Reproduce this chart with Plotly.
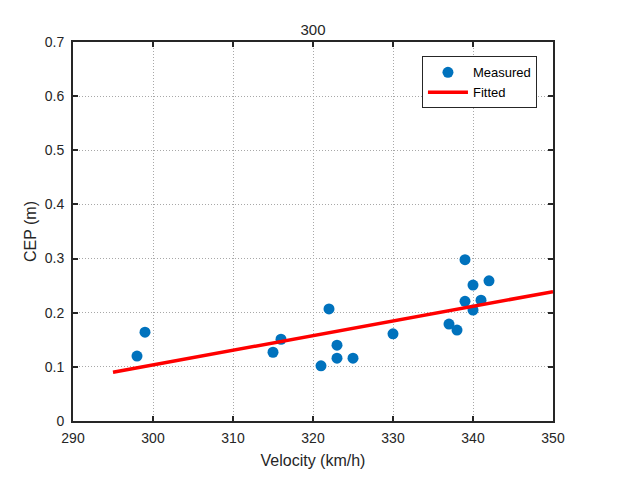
import plotly.graph_objects as go

velocity = [298, 299, 315, 316, 321, 322, 323, 323, 325, 330, 337, 338, 339, 339, 340, 340, 341, 342]
cep = [0.120, 0.164, 0.127, 0.151, 0.102, 0.207, 0.140, 0.116, 0.116, 0.161, 0.179, 0.168, 0.298, 0.221, 0.251, 0.205, 0.223, 0.259]
fit_x = [295, 350]
fit_y = [0.090, 0.239]

x_ticks = [290, 300, 310, 320, 330, 340, 350]
y_ticks = [0, 0.1, 0.2, 0.3, 0.4, 0.5, 0.6, 0.7]

font = "Liberation Sans, Arial, sans-serif"

fig = go.Figure()
fig.add_trace(go.Scatter(x=velocity, y=cep, mode="markers", name="Measured",
                         marker=dict(color="#0072BD", size=11)))
fig.add_trace(go.Scatter(x=fit_x, y=fit_y, mode="lines", name="Fitted",
                         line=dict(color="#FF0000", width=3.5)))

axis_common = dict(showline=True, linecolor="#262626", linewidth=2, mirror="ticks",
                   ticks="inside", ticklen=5, tickwidth=2, tickcolor="#262626",
                   showgrid=True, gridcolor="#a8a8a8", griddash="1px,2px", gridwidth=1,
                   zeroline=False, tickfont=dict(family=font, size=14, color="#262626"))

fig.update_xaxes(range=[290, 350], tickvals=x_ticks, ticktext=[str(v) for v in x_ticks],
                 ticklabelstandoff=3,
                 title=dict(text="Velocity (km/h)", font=dict(family=font, size=16, color="#262626"), standoff=10),
                 **axis_common)
fig.update_yaxes(range=[0, 0.7], tickvals=y_ticks, ticktext=[("%g" % v) for v in y_ticks],
                 ticklabelstandoff=4,
                 title=dict(text="CEP (m)", font=dict(family=font, size=16, color="#262626"), standoff=4),
                 **axis_common)

fig.update_layout(
    width=638, height=485,
    margin=dict(l=73, r=85, t=42, b=64),
    paper_bgcolor="white", plot_bgcolor="white",
    title=dict(text="300", x=(73 + 553) / 2 / 638, xanchor="center", y=1 - 30 / 485, yanchor="middle",
               font=dict(family=font, size=15, color="#262626")),
    legend=dict(x=0.727, y=0.962, xanchor="left", yanchor="top",
                bordercolor="#262626", borderwidth=1, bgcolor="white",
                font=dict(family=font, size=13, color="#000000"),
                tracegroupgap=0, itemwidth=40),
    showlegend=True,
)

fig.write_html("out.html")
